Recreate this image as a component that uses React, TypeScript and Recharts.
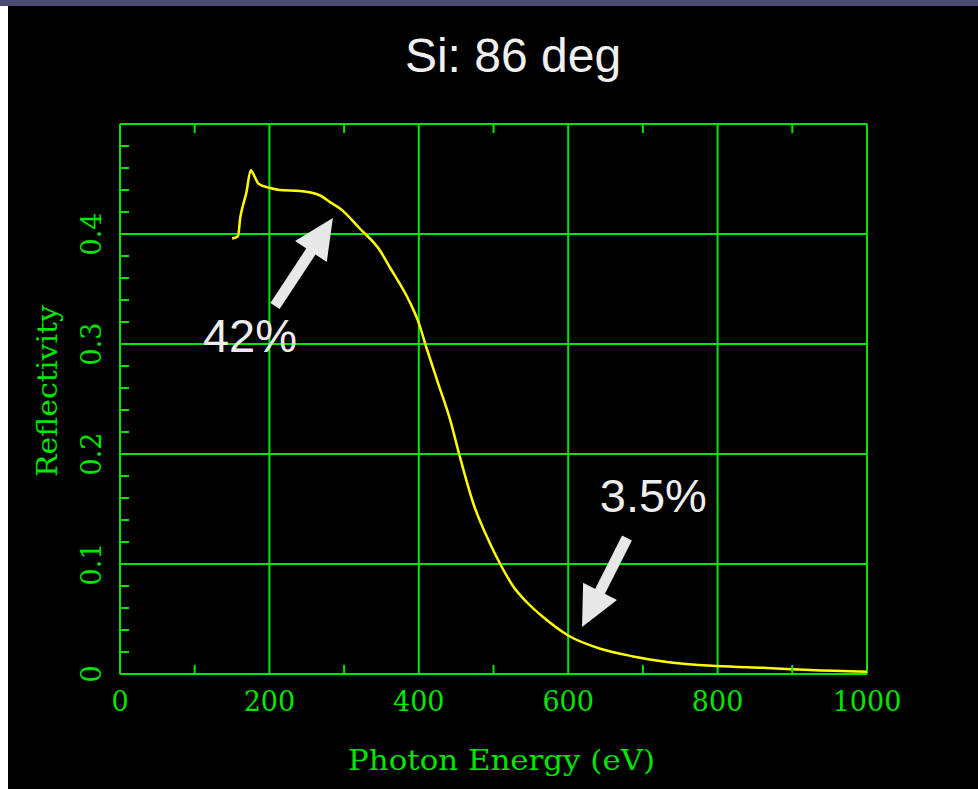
import {
  LineChart,
  Line,
  XAxis,
  YAxis,
  ReferenceLine,
  ReferenceDot,
  Label,
} from 'recharts';

const GREEN = '#00e600';
const YELLOW = '#ffff00';
const ARROW = '#e8e8e8';
const PLOT_FONT = '"DejaVu Serif", serif';

// Si reflectivity at 86 deg
const energy = [
  150, 158, 161, 165, 169, 175, 181, 185, 200, 214, 241, 268, 281, 295, 321, 348, 361, 388, 399,
  411, 426, 442, 454, 473, 493, 509, 526, 545, 566, 600, 643, 687, 732, 799, 866, 924, 1000,
];
const reflectivity = [
  0.396, 0.398, 0.415, 0.427, 0.437, 0.458, 0.451, 0.446, 0.442, 0.44, 0.439, 0.435, 0.429, 0.423,
  0.405, 0.385, 0.37, 0.338, 0.321, 0.295, 0.264, 0.231, 0.2, 0.155, 0.122, 0.1, 0.08, 0.065,
  0.052, 0.035, 0.023, 0.016, 0.011, 0.0073, 0.0055, 0.0036, 0.002,
];

const xTicks = [0, 100, 200, 300, 400, 500, 600, 700, 800, 900, 1000];
const yTicks = [
  0, 0.02, 0.04, 0.06, 0.08, 0.1, 0.12, 0.14, 0.16, 0.18, 0.2, 0.22, 0.24, 0.26, 0.28, 0.3, 0.32,
  0.34, 0.36, 0.38, 0.4, 0.42, 0.44, 0.46, 0.48, 0.5,
];
const xLabels = [0, 200, 400, 600, 800, 1000];
const yLabels = [0, 0.1, 0.2, 0.3, 0.4];
const gridX = [0, 200, 400, 600, 800, 1000];
const gridY = [0, 0.1, 0.2, 0.3, 0.4, 0.5];

// annotation arrows: [tail, tip] in data units, and their labels
const arrows = [
  { from: { x: 207.5, y: 0.3345 }, to: { x: 285, y: 0.4145 } },
  { from: { x: 678.7, y: 0.1236 }, to: { x: 618.5, y: 0.0427 } },
];
const notes = [
  { x: 174, y: 0.293, text: '42%' },
  { x: 714, y: 0.147, text: '3.5%' },
];

const data = energy.map((e, i) => ({ energy: e, r: reflectivity[i] }));

const isMajorY = (v: number) => Math.round(v * 100) % 10 === 0;
const isMajorX = (v: number) => v % 200 === 0;

const TICK = 9;

const BottomTick = (props: any) => {
  const { x, y, payload } = props;
  const v = payload.value;
  return (
    <g>
      {!isMajorX(v) && <line x1={x} x2={x} y1={y} y2={y - TICK} stroke={GREEN} strokeWidth={2} />}
      {xLabels.includes(v) && (
        <text x={x} y={y + 37} textAnchor="middle" fill={GREEN} fontFamily={PLOT_FONT} fontSize={27}>
          {v}
        </text>
      )}
    </g>
  );
};

const TopTick = (props: any) => {
  const { x, y, payload } = props;
  if (isMajorX(payload.value)) return <g />;
  return <line x1={x} x2={x} y1={y} y2={y + TICK} stroke={GREEN} strokeWidth={2} />;
};

const LeftTick = (props: any) => {
  const { x, y, payload } = props;
  const v = payload.value;
  const label = yLabels.includes(v);
  return (
    <g>
      {!isMajorY(v) && <line x1={x} x2={x + TICK} y1={y} y2={y} stroke={GREEN} strokeWidth={2} />}
      {label && (
        <text
          x={x - 29}
          y={y}
          transform={`rotate(-90 ${x - 29} ${y})`}
          textAnchor="middle"
          dominantBaseline="central"
          fill={GREEN}
          fontFamily={PLOT_FONT}
          fontSize={27}
        >
          {v}
        </text>
      )}
    </g>
  );
};

const RightTick = (props: any) => {
  const { x, y, payload } = props;
  if (isMajorY(payload.value)) return <g />;
  return <line x1={x} x2={x - TICK} y1={y} y2={y} stroke={GREEN} strokeWidth={2} />;
};

const ArrowShape = (props: any) => {
  const { x1, y1, x2, y2 } = props;
  const dx = x2 - x1;
  const dy = y2 - y1;
  const len = Math.sqrt(dx * dx + dy * dy) || 1;
  const ux = dx / len;
  const uy = dy / len;
  const bx = x2 - ux * 40;
  const by = y2 - uy * 40;
  const w = 19;
  return (
    <g>
      <line x1={x1} y1={y1} x2={bx + ux * 2} y2={by + uy * 2} stroke={ARROW} strokeWidth={11} />
      <polygon
        points={`${x2},${y2} ${bx - uy * w},${by + ux * w} ${bx + uy * w},${by - ux * w}`}
        fill={ARROW}
      />
    </g>
  );
};

const NoteText = (text: string) => (props: any) => (
  <text
    x={props.cx}
    y={props.cy}
    textAnchor="middle"
    fill="#eeeeee"
    fontFamily='"Liberation Sans", Arial, sans-serif'
    fontSize={47}
  >
    {text}
  </text>
);

export default function App() {
  return (
    <div
      style={{
        position: 'absolute',
        left: 0,
        top: 0,
        width: 978,
        height: 789,
        background: '#000',
        overflow: 'hidden',
      }}
    >
      <div style={{ position: 'absolute', left: 0, top: 0, width: 978, height: 6, background: '#4b4b72' }} />
      <div style={{ position: 'absolute', left: 0, top: 6, width: 8, height: 783, background: '#ffffff' }} />
      <div
        style={{
          position: 'absolute',
          left: 0,
          width: 1026,
          top: 24,
          textAlign: 'center',
          color: '#f0f0f0',
          fontFamily: '"Liberation Sans", Arial, sans-serif',
          fontSize: 48,
          lineHeight: '64px',
        }}
      >
        Si: 86 deg
      </div>
      <div style={{ position: 'absolute', left: 0, top: 0 }}>
        <LineChart width={978} height={789} data={data} margin={{ top: 94, right: 81, bottom: 75, left: 60 }}>
          <XAxis
            xAxisId={0}
            dataKey="energy"
            type="number"
            domain={[0, 1000]}
            ticks={xTicks}
            interval={0}
            height={40}
            tickSize={0}
            tickMargin={0}
            axisLine={false}
            tickLine={false}
            tick={<BottomTick />}
          >
            <Label
              content={(p: any) => {
                const vb = p.viewBox;
                return (
                  <text
                    x={vb.x + vb.width / 2 + 8}
                    y={674 + 96}
                    textAnchor="middle"
                    fill={GREEN}
                    fontFamily={PLOT_FONT}
                    fontSize={28}
                    textLength={307}
                    lengthAdjust="spacingAndGlyphs"
                  >
                    Photon Energy (eV)
                  </text>
                );
              }}
            />
          </XAxis>
          <XAxis
            xAxisId="top"
            orientation="top"
            dataKey="energy"
            type="number"
            domain={[0, 1000]}
            ticks={xTicks}
            interval={0}
            height={30}
            tickSize={0}
            tickMargin={0}
            axisLine={false}
            tickLine={false}
            tick={<TopTick />}
          />
          <YAxis
            yAxisId={0}
            type="number"
            domain={[0, 0.5]}
            ticks={yTicks}
            interval={0}
            width={60}
            tickSize={0}
            tickMargin={0}
            axisLine={false}
            tickLine={false}
            tick={<LeftTick />}
          >
            <Label
              content={() => {
                const cx = 47;
                const cy = 391;
                return (
                  <text
                    x={cx}
                    y={cy}
                    transform={`rotate(-90 ${cx} ${cy})`}
                    textAnchor="middle"
                    dominantBaseline="central"
                    fill={GREEN}
                    fontFamily={PLOT_FONT}
                    fontSize={28}
                    textLength={172}
                    lengthAdjust="spacingAndGlyphs"
                  >
                    Reflectivity
                  </text>
                );
              }}
            />
          </YAxis>
          <YAxis
            yAxisId="right"
            orientation="right"
            type="number"
            domain={[0, 0.5]}
            ticks={yTicks}
            interval={0}
            width={30}
            tickSize={0}
            tickMargin={0}
            axisLine={false}
            tickLine={false}
            tick={<RightTick />}
          />
          {gridX.map((v) => (
            <ReferenceLine key={`gx-${v}`} x={v} stroke={GREEN} strokeWidth={2} />
          ))}
          {gridY.map((v) => (
            <ReferenceLine key={`gy-${v}`} y={v} stroke={GREEN} strokeWidth={2} />
          ))}
          <Line
            dataKey="r"
            type="monotone"
            stroke={YELLOW}
            strokeWidth={2.5}
            dot={false}
            isAnimationActive={false}
          />
          {arrows.map((a, i) => (
            <ReferenceLine key={`arrow-${i}`} segment={[a.from, a.to]} shape={<ArrowShape />} />
          ))}
          {notes.map((n) => (
            <ReferenceDot key={n.text} x={n.x} y={n.y} r={0} shape={NoteText(n.text)} />
          ))}
        </LineChart>
      </div>
    </div>
  );
}
